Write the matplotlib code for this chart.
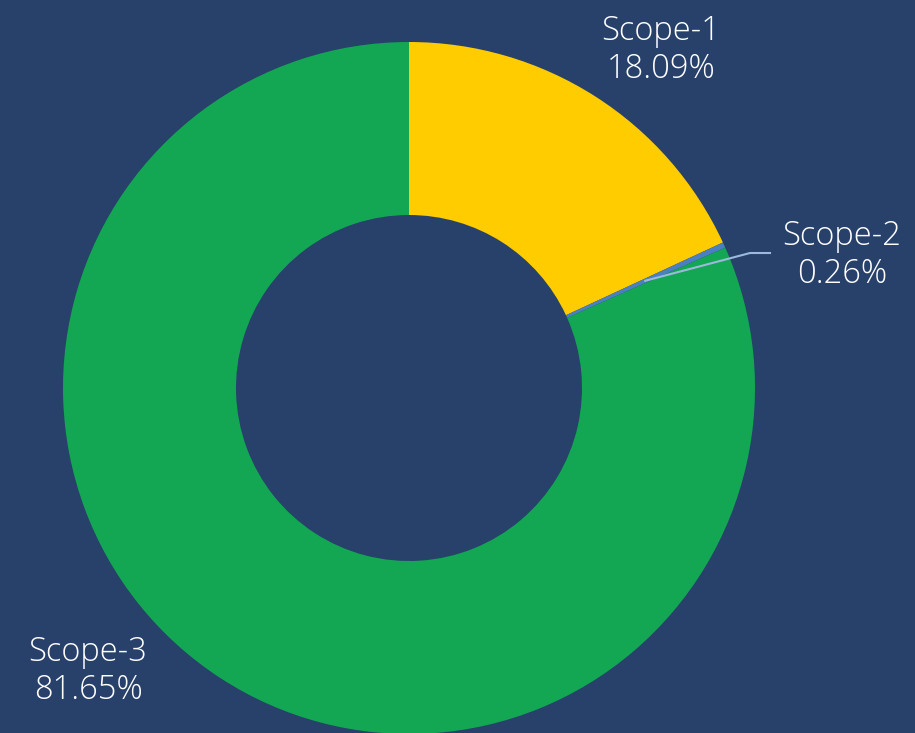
import numpy as np
import matplotlib.pyplot as plt

plt.rcParams["font.family"] = ["Open Sans", "DejaVu Sans"]

# 数据
labels = ["Scope-1", "Scope-2", "Scope-3"]
shares = [18.09, 0.26, 81.65]
colors = ["#FFCC00", "#4A80C0", "#13A753"]
bg = "#27416B"

W, H = 915, 733
cx, cy, R = 409, 388, 346   # 圆心与外半径（像素）

fig = plt.figure(figsize=(W / 100, H / 100), dpi=100, facecolor=bg)
ax = fig.add_axes([0, 0, 1, 1])
ax.set_facecolor(bg)

wedges, _ = ax.pie(shares, colors=colors, startangle=90, counterclock=False,
                   radius=1.0, wedgeprops=dict(width=0.5, edgecolor="none"))

# pie 会重设坐标范围，之后再设
ax.set_xlim(-cx / R, (W - cx) / R)
ax.set_ylim(-(H - cy) / R, cy / R)
ax.set_aspect("equal")
ax.axis("off")

def px(x, y):
    """像素坐标 -> 数据坐标"""
    return (x - cx) / R, (cy - y) / R

txt = dict(color="white", fontsize=23.5, ha="center", va="center",
           linespacing=1.17, fontweight="light")

# Scope-1
x, y = px(661, 50)
ax.text(x, y, f"{labels[0]}\n{shares[0]:.2f}%", **txt)

# Scope-2 带引线
w = wedges[1]
ang = np.deg2rad((w.theta1 + w.theta2) / 2)
sx, sy = 0.75 * np.cos(ang), 0.75 * np.sin(ang)
ex, ey = px(750, 253)
hx, hy = px(770, 253)
ax.plot([sx, ex, hx], [sy, ey, hy], color="#9DB8DD", lw=1.5)
x, y = px(842, 255)
ax.text(x, y, f"{labels[1]}\n{shares[1]:.2f}%", **txt)

# Scope-3
x, y = px(88, 671)
ax.text(x, y, f"{labels[2]}\n{shares[2]:.2f}%", **txt)

plt.savefig("out.png", dpi=100, facecolor=bg)
